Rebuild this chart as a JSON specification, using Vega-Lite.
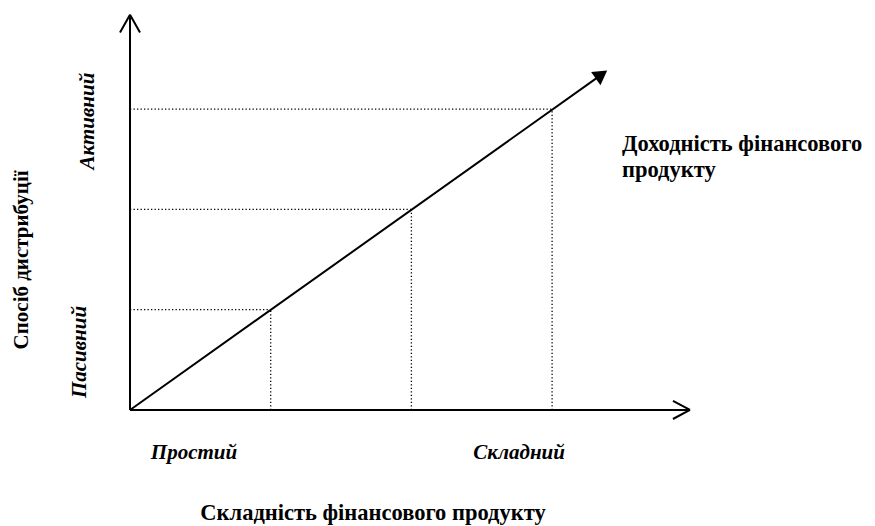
{
  "$schema": "https://vega.github.io/schema/vega-lite/v6.json",
  "width": 875,
  "height": 526,
  "padding": 0,
  "autosize": "none",
  "background": "white",
  "config": {"view": {"stroke": null}, "text": {"font": "Liberation Serif", "fontSize": 21, "fontWeight": "bold", "color": "black", "baseline": "middle"}},
  "datasets": {
    "dotted": [
      {"x": 0, "y": 3, "x2": 3, "y2": 3},
      {"x": 3, "y": 0, "x2": 3, "y2": 3},
      {"x": 0, "y": 2, "x2": 2, "y2": 2},
      {"x": 2, "y": 0, "x2": 2, "y2": 2},
      {"x": 0, "y": 1, "x2": 1, "y2": 1},
      {"x": 1, "y": 0, "x2": 1, "y2": 1}
    ],
    "solid": [
      {"x": 0, "y": 0, "x2": 0, "y2": 3.94},
      {"x": 0, "y": 0, "x2": 3.98, "y2": 0},
      {"x": 0, "y": 0, "x2": 3.351, "y2": 3.344},
      {"x": 0, "y": 3.94, "x2": -0.071, "y2": 3.764},
      {"x": 0, "y": 3.94, "x2": 0.071, "y2": 3.764},
      {"x": 3.98, "y": 0, "x2": 3.859, "y2": 0.09},
      {"x": 3.98, "y": 0, "x2": 3.859, "y2": -0.09}
    ],
    "head": [{"x": 3.351, "y": 3.344}],
    "rotNormal": [
      {"x": -0.768, "y": 1.496, "t": "Спосіб дистрибуції"}
    ],
    "rotItalic": [
      {"x": -0.299, "y": 2.881, "t": "Активний"},
      {"x": -0.355, "y": 0.578, "t": "Пасивний"}
    ],
    "horItalic": [
      {"x": 0.455, "y": -0.429, "t": "Простий"},
      {"x": 2.765, "y": -0.429, "t": "Складний"}
    ],
    "horCenter": [
      {"x": 1.727, "y": -1.097, "t": "Складність фінансового продукту"}
    ],
    "horLeft": [
      {"x": 3.497, "y": 2.652, "t": "Доходність фінансового"},
      {"x": 3.497, "y": 2.393, "t": "продукту"}
    ]
  },
  "encoding": {
    "x": {"field": "x", "type": "quantitative", "scale": {"domain": [-0.924, 5.295], "nice": false, "zero": false}, "axis": null},
    "y": {"field": "y", "type": "quantitative", "scale": {"domain": [-1.157, 4.088], "nice": false, "zero": false}, "axis": null}
  },
  "layer": [
    {
      "data": {"name": "dotted"},
      "mark": {"type": "rule", "color": "black", "strokeWidth": 1.3, "strokeDash": [1.3, 2.2]},
      "encoding": {"x2": {"field": "x2"}, "y2": {"field": "y2"}}
    },
    {
      "data": {"name": "solid"},
      "mark": {"type": "rule", "color": "black", "strokeWidth": 2},
      "encoding": {"x2": {"field": "x2"}, "y2": {"field": "y2"}}
    },
    {
      "data": {"name": "head"},
      "mark": {"type": "point", "shape": "triangle-up", "filled": true, "color": "black", "opacity": 1, "size": 260, "angle": 54.6},
      "encoding": {}
    },
    {
      "data": {"name": "rotNormal"},
      "mark": {"type": "text", "angle": 270, "align": "center"},
      "encoding": {"text": {"field": "t"}}
    },
    {
      "data": {"name": "rotItalic"},
      "mark": {"type": "text", "angle": 270, "align": "center", "fontStyle": "italic"},
      "encoding": {"text": {"field": "t"}}
    },
    {
      "data": {"name": "horItalic"},
      "mark": {"type": "text", "align": "center", "fontStyle": "italic"},
      "encoding": {"text": {"field": "t"}}
    },
    {
      "data": {"name": "horCenter"},
      "mark": {"type": "text", "align": "center", "fontSize": 22.5, "baseline": "alphabetic"},
      "encoding": {"text": {"field": "t"}}
    },
    {
      "data": {"name": "horLeft"},
      "mark": {"type": "text", "align": "left", "fontSize": 22.5},
      "encoding": {"text": {"field": "t"}}
    }
  ]
}
